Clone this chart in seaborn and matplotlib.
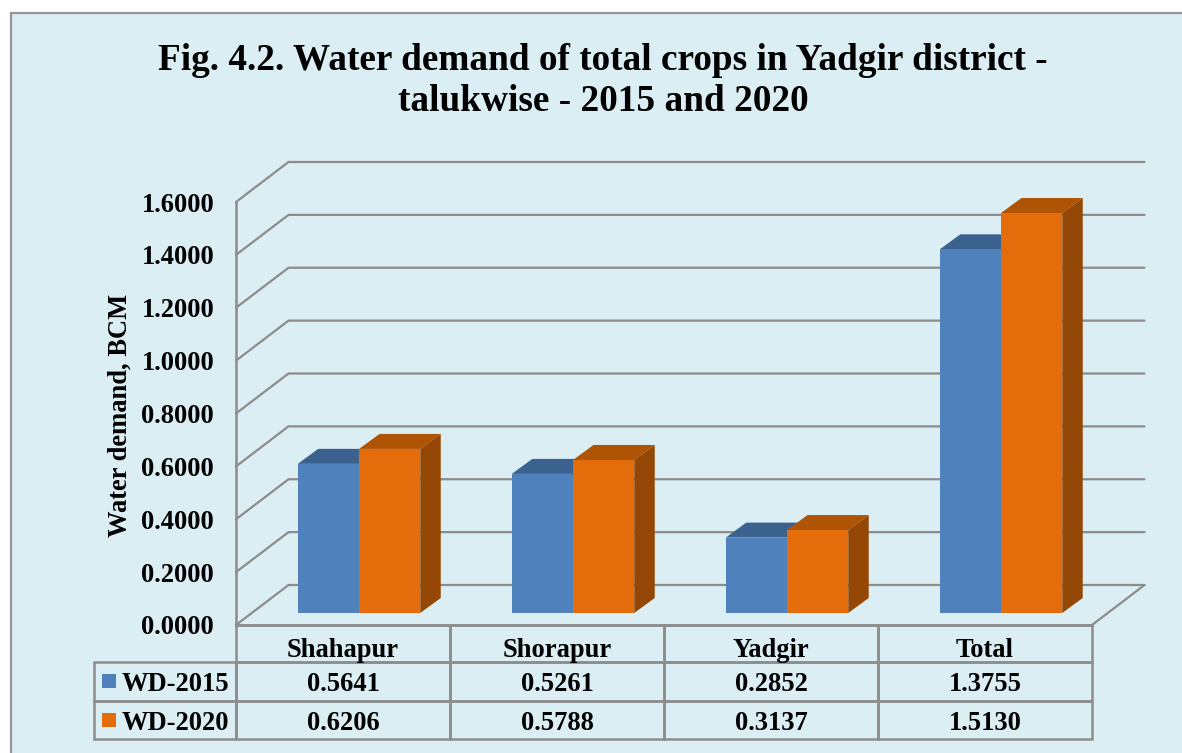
import matplotlib
matplotlib.use('Agg')
import matplotlib.pyplot as plt
from matplotlib.patches import Polygon, Rectangle
from matplotlib.ticker import FormatStrFormatter
import pandas as pd
import seaborn as sns

taluks = ['Shahapur', 'Shorapur', 'Yadgir', 'Total']
series_names = ['WD-2015', 'WD-2020']
wd_2015 = [0.5641, 0.5261, 0.2852, 1.3755]
wd_2020 = [0.6206, 0.5788, 0.3137, 1.5130]
y_ticks = [0.0, 0.2, 0.4, 0.6, 0.8, 1.0, 1.2, 1.4, 1.6]

BG = '#DBEEF4'
GRID = '#8C8C8C'
FRONT = ['#4F81BD', '#E46C0A']
TOP = ['#3B618F', '#AF5305']
SIDE = ['#2F4F76', '#954805']
W, H = 1182, 753
FS = 19.1


def px_rect(x0, y0, x1, y1):
    # image pixels (y down) to figure fractions [l, b, w, h]
    return [x0 / W, 1 - y1 / H, (x1 - x0) / W, (y1 - y0) / H]


df = pd.DataFrame({
    'Taluk': taluks * 2,
    'Series': [series_names[0]] * 4 + [series_names[1]] * 4,
    'Demand': wd_2015 + wd_2020,
})

sns.set_theme(style='white')
plt.rcParams['font.family'] = ['Liberation Serif', 'DejaVu Serif']
plt.rcParams['font.weight'] = 'bold'
plt.rcParams['text.color'] = 'black'
plt.rcParams['axes.labelcolor'] = 'black'
plt.rcParams['xtick.color'] = 'black'
plt.rcParams['ytick.color'] = 'black'

fig = plt.figure(figsize=(W / 100, H / 100), dpi=100, facecolor='white')

# light blue chart area, only its top and left border fall inside the image
l, b, w, h = px_rect(11, 13, W + 20, H + 20)
fig.add_artist(Rectangle((l, b), w, h, transform=fig.transFigure,
                         facecolor=BG, edgecolor='#969696', linewidth=1.6, zorder=-5))

AX_L, AX_R, AX_T, AX_B = 236, 1092, 202, 625
ax = fig.add_axes(px_rect(AX_L, AX_T, AX_R, AX_B))
ax.patch.set_alpha(0)

sns.barplot(data=df, x='Taluk', y='Demand', hue='Series', order=taluks,
            hue_order=series_names, palette=FRONT, width=0.5724, gap=0,
            saturation=1, legend=False, ax=ax)
ax.set_xlim(-0.5, 3.5)
ax.set_ylim(0, 1.6)

# pixel sizes of the fake depth, as data units
ux = 4 / (AX_R - AX_L)
uy = 1.6 / (AX_B - AX_T)
wall_dx, wall_dy = 52.5 * ux, 40 * uy
bar_x, bar_y = 16 * ux, 12.0 * uy
bar_dx, bar_dy = 20.5 * ux, 15 * uy

# walls and floor
for v in y_ticks:
    ax.plot([-0.5, -0.5 + wall_dx, 3.5 + wall_dx], [v, v + wall_dy, v + wall_dy],
            color=GRID, lw=1.6, clip_on=False, zorder=1, solid_joinstyle='miter')
ax.plot([3.5, 3.5 + wall_dx], [0, wall_dy], color=GRID, lw=1.6, clip_on=False, zorder=1)

# move the bars into the depth and give them a top and a side
for i, cont in enumerate(ax.containers):
    for bar in cont:
        bar.set_x(bar.get_x() + bar_x)
        bar.set_y(bar_y)
        bar.set_edgecolor('none')
        bar.set_zorder(4)
        bar.set_clip_on(False)
        x0, x1 = bar.get_x(), bar.get_x() + bar.get_width()
        y0, y1 = bar_y, bar_y + bar.get_height()
        ax.add_patch(Polygon([(x0, y1), (x1, y1), (x1 + bar_dx, y1 + bar_dy), (x0 + bar_dx, y1 + bar_dy)],
                             facecolor=TOP[i], edgecolor='none', clip_on=False, zorder=3))
        ax.add_patch(Polygon([(x1, y0), (x1 + bar_dx, y0 + bar_dy), (x1 + bar_dx, y1 + bar_dy), (x1, y1)],
                             facecolor=SIDE[i], edgecolor='none', clip_on=False, zorder=3))

sns.despine(ax=ax, top=True, right=True)
for side in ['left', 'bottom']:
    ax.spines[side].set_color(GRID)
    ax.spines[side].set_linewidth(1.8)

ax.set_yticks(y_ticks)
ax.yaxis.set_major_formatter(FormatStrFormatter('%.4f'))
ax.tick_params(axis='y', length=0, pad=15.7, labelsize=FS)
ax.tick_params(axis='x', length=0, pad=9.3, labelsize=FS)
ax.set_xlabel('')
ax.set_ylabel('Water demand, BCM', fontsize=FS, fontweight='bold')
ax.yaxis.set_label_coords((133 - AX_L) / (AX_R - AX_L), (AX_B - 415) / (AX_B - AX_T))

# data table under the axes, first header row left open for the tick labels
TAB_L, TAB_R, TAB_B = 94, AX_R, 739
cells = [[''] * 5,
         [series_names[0]] + [f'{v:.4f}' for v in wd_2015],
         [series_names[1]] + [f'{v:.4f}' for v in wd_2020]]
ax_w, ax_h = AX_R - AX_L, AX_B - AX_T
first_col = AX_L - TAB_L
tab = ax.table(cellText=cells, cellLoc='center',
               colWidths=[first_col] + [ax_w / 4] * 4,
               bbox=[(TAB_L - AX_L) / ax_w, (AX_B - TAB_B) / ax_h,
                     (TAB_R - TAB_L) / ax_w, (TAB_B - AX_B) / ax_h])
tab.auto_set_font_size(False)
tab.set_fontsize(FS)
row_heights = [37, 39, 38]
for (r, c), cell in tab.get_celld().items():
    cell.set_height(row_heights[r])
    cell.set_facecolor('none')
    cell.set_edgecolor(GRID)
    cell.set_linewidth(1.8)
    cell.get_text().set_fontweight('bold')
    cell.get_text().set_color('black')
    cell.get_text().set_va('center_baseline')
    if r == 0 and c == 0:
        cell.visible_edges = ''
    if r > 0 and c == 0:
        cell.get_text().set_ha('left')
        cell.PAD = 28 / first_col

# legend keys in the table
for i, y_key in enumerate([674, 713]):
    l, b, w, h = px_rect(102, y_key, 116, y_key + 14)
    fig.add_artist(Rectangle((l, b), w, h, transform=fig.transFigure,
                             facecolor=FRONT[i], edgecolor='none', zorder=5))

fig.text(603 / W, 1 - 81 / H,
         'Fig. 4.2. Water demand of total crops in Yadgir district -\ntalukwise - 2015 and 2020',
         ha='center', va='center', fontsize=26.8, fontweight='bold', color='black', linespacing=1.24)

fig.savefig('out.png', dpi=100)
